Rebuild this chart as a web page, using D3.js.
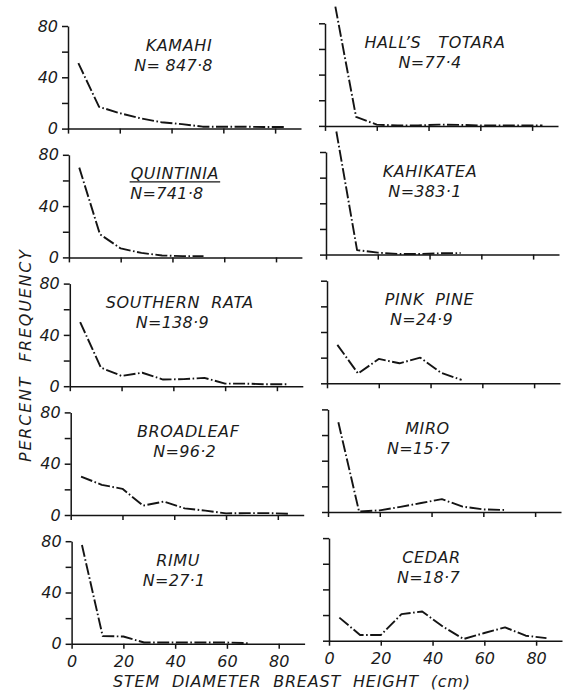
<!DOCTYPE html>
<html>
<head>
<meta charset="utf-8">
<script src="https://cdn.jsdelivr.net/npm/d3@7"></script>
<style>
  body { margin: 0; background: #fff; }
  svg { display: block; }
  text { font-family: "DejaVu Sans", sans-serif; font-style: italic; fill: #1b1b1b; white-space: pre; }
</style>
</head>
<body>
<svg id="chart" width="568" height="691"></svg>
<script>
// Diameter class midpoints (cm), 8 cm classes
const classMid = [4, 12, 20, 28, 36, 44, 52, 60, 68, 76, 84];
const xTicks = [0, 20, 40, 60, 80];
const yTicks = [0, 20, 40, 60, 80];
const yLabelled = [0, 40, 80];

// Species names and sample sizes
const species = ["KAMAHI", "HALL\u2019S   TOTARA", "QUINTINIA", "KAHIKATEA", "SOUTHERN  RATA",
                 "PINK  PINE", "BROADLEAF", "MIRO", "RIMU", "CEDAR"];
const sampleN = ["N= 847\u00B78", "N=77\u00B74", "N=741\u00B78", "N=383\u00B71", "N=138\u00B79",
                 "N=24\u00B79", "N=96\u00B72", "N=15\u00B77", "N=27\u00B71", "N=18\u00B77"];

// Percent frequency per diameter class
const kamahi       = [51, 17, 12, 8, 5, 3.5, 1.5, 1.5, 1.5, 1.2, 1.2];
const hallsTotara  = [93, 7, 1, 0.3, 0.4, 1, 0.8, 0.3, 0.3, 0.3, 0.3];
const quintinia    = [70, 18, 7, 3.5, 1.5, 1, 1];
const kahikatea    = [96, 3.5, 1.5, 0.5, 0.5, 1, 1.2];
const southernRata = [50, 14.5, 8, 10.5, 5.2, 5.5, 6.5, 2, 2, 1.5, 1.5];
const pinkPine     = [30, 7.6, 19, 15.6, 20, 8.3, 2.6];
const broadleaf    = [30, 23.5, 20.4, 7.3, 10.5, 5.2, 3.4, 1.3, 1.5, 1.5, 1];
const miro         = [70, 0.3, 1.3, 4, 7, 10, 4.2, 2, 1.6];
const rimu         = [77, 6, 5.7, 1, 1, 1, 1, 1, 0.5];
const cedar        = [18, 4.4, 4.4, 20.7, 22.8, 11, 1.3, 6, 10.4, 3.9, 2];

const seriesList = [kamahi, hallsTotara, quintinia, kahikatea, southernRata,
                    pinkPine, broadleaf, miro, rimu, cedar];

// Panel placement: title and N-label centres measured from each panel's y-axis
const titleDx = [111, 110, 106, 104, 110, 102.5, 117.5, 99.5, 106.5, 102.5];
const nDx     = [105.5, 105, 98, 99, 102.5, 94.5, 114, 90.5, 102.5, 99.5];

const svg = d3.select("#chart");
const ink = "#141414";

seriesList.forEach((vals, i) => {
  const row = Math.floor(i / 2), col = i % 2;
  const x0 = col === 0 ? 68 + row * 0.9 : 325 + row * 1.0;
  const top = col === 0 ? 26 + row * 128.8 : 23.3 + row * 128.7;
  const zero = top + 102.6;

  const x = d3.scaleLinear().domain([0, 90]).range([x0, x0 + 233]);
  const y = d3.scaleLinear().domain([0, 80]).range([zero, top]);

  const g = svg.append("g");

  const xAxis = d3.axisBottom(x).tickValues(xTicks).tickSize(5).tickSizeOuter(0).tickPadding(7)
    .tickFormat(row === 4 ? d3.format("d") : () => "");
  const yAxis = d3.axisLeft(y).tickValues(yTicks).tickSize(6).tickSizeOuter(0).tickPadding(4)
    .tickFormat(col === 0 ? (d => yLabelled.includes(d) ? d : "") : () => "");

  const gx = g.append("g").attr("transform", `translate(0,${zero})`).call(xAxis);
  const gy = g.append("g").attr("transform", `translate(${x0},0)`).call(yAxis);
  [gx, gy].forEach(a => {
    a.attr("font-family", null).attr("font-size", null);
    a.selectAll("path, line").attr("stroke", ink).attr("stroke-width", 1.5);
    a.selectAll("text").attr("font-size", 16).attr("fill", "#1b1b1b");
  });

  const pts = vals.map((v, k) => [classMid[k], v]);
  g.append("path")
    .datum(pts)
    .attr("fill", "none")
    .attr("stroke", ink)
    .attr("stroke-width", 1.9)
    .attr("stroke-linejoin", "round")
    .attr("stroke-dasharray", "12,2.5,1.6,2.5")
    .attr("d", d3.line().x(d => x(d[0])).y(d => y(d[1])));

  const t = g.append("text")
    .attr("x", x0 + titleDx[i]).attr("y", top + 24.5)
    .attr("text-anchor", "middle").attr("font-size", 16)
    .attr("letter-spacing", 0.6)
    .text(species[i]);
  g.append("text")
    .attr("x", x0 + nDx[i]).attr("y", top + 44.5)
    .attr("text-anchor", "middle").attr("font-size", 16)
    .attr("letter-spacing", 0.3)
    .text(sampleN[i]);

  if (species[i] === "QUINTINIA") {
    const w = t.node().getComputedTextLength();
    g.append("line")
      .attr("x1", x0 + titleDx[i] - w / 2 - 1).attr("x2", x0 + titleDx[i] + w / 2 + 1)
      .attr("y1", top + 27).attr("y2", top + 27)
      .attr("stroke", ink).attr("stroke-width", 1.3);
  }
});

// Shared axis titles
svg.append("text")
  .attr("transform", "translate(31,356) rotate(-90)")
  .attr("text-anchor", "middle").attr("font-size", 16)
  .attr("textLength", 212).attr("lengthAdjust", "spacing")
  .text("PERCENT  FREQUENCY");

svg.append("text")
  .attr("x", 291.5).attr("y", 687)
  .attr("text-anchor", "middle").attr("font-size", 16)
  .attr("textLength", 357).attr("lengthAdjust", "spacing")
  .text("STEM  DIAMETER  BREAST  HEIGHT  (cm)");
</script>
</body>
</html>
